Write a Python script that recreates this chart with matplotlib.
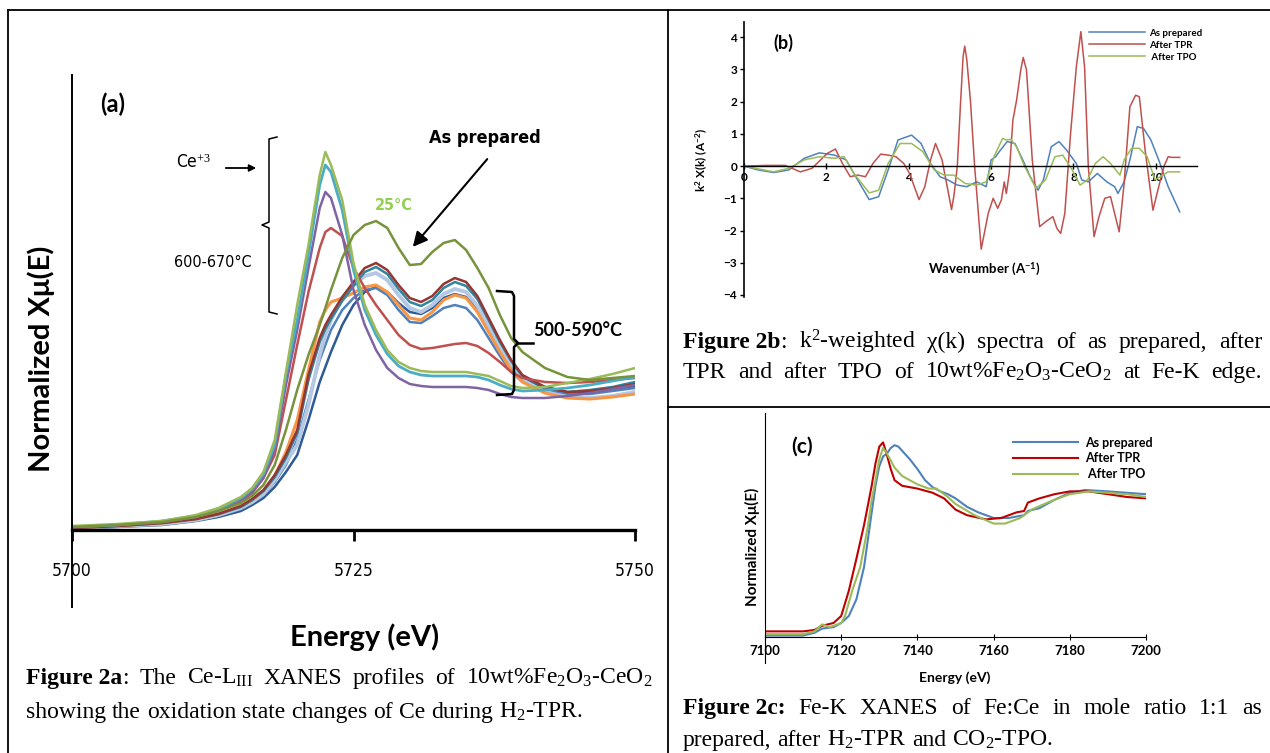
import matplotlib
matplotlib.use('Agg')
import matplotlib.pyplot as plt
from matplotlib import font_manager

plt.rcParams['font.family'] = ['Lato', 'DejaVu Sans']
plt.rcParams['mathtext.fontset'] = 'custom'
plt.rcParams['mathtext.rm'] = 'Liberation Serif'
plt.rcParams['mathtext.it'] = 'Liberation Serif:italic'
plt.rcParams['mathtext.bf'] = 'Liberation Serif:bold'
plt.rcParams['mathtext.sf'] = 'Lato:bold'

# a narrow face for panel (a) labels, whatever is installed
_fonts = [(f.name, f.stretch) for f in font_manager.fontManager.ttflist]
NARROW = dict(family=['Lato', 'DejaVu Sans'], stretch='normal')
for _name, _stretch in _fonts:
    if _name == 'Liberation Sans Narrow':
        NARROW = dict(family=['Liberation Sans Narrow', 'DejaVu Sans'], stretch='normal')
        break
else:
    for _name, _stretch in _fonts:
        if _name == 'DejaVu Sans' and _stretch not in ('normal', 500):
            NARROW = dict(family=['DejaVu Sans'], stretch=_stretch)
            break
SERIF = ['Liberation Serif', 'DejaVu Serif']

# ---- (a) Ce-LIII XANES during H2-TPR ----
energy_a = [5700, 5704, 5708, 5711, 5713, 5715, 5716, 5717, 5718, 5719, 5720,
            5721, 5722, 5722.5, 5723, 5724, 5725, 5726, 5727, 5728, 5729, 5730,
            5731, 5732, 5733, 5734, 5735, 5736, 5737, 5738, 5739, 5740, 5742,
            5744, 5746, 5748, 5750]

# 500-590 C group
mu_darkred = [0.02, 0.04, 0.07, 0.11, 0.16, 0.24, 0.31, 0.40, 0.55, 0.75, 1.00, 1.55, 1.92,
              2.05, 2.15, 2.33, 2.48, 2.62, 2.67, 2.60, 2.45, 2.32, 2.28, 2.34, 2.46, 2.52,
              2.48, 2.34, 2.12, 1.90, 1.70, 1.55, 1.43, 1.38, 1.39, 1.42, 1.46]
mu_teal = [0.02, 0.04, 0.07, 0.11, 0.16, 0.23, 0.30, 0.39, 0.53, 0.72, 0.97, 1.50, 1.88,
           2.01, 2.11, 2.29, 2.44, 2.58, 2.63, 2.56, 2.41, 2.28, 2.24, 2.30, 2.42, 2.48,
           2.44, 2.31, 2.10, 1.88, 1.69, 1.54, 1.43, 1.38, 1.40, 1.43, 1.48]
mu_lavender = [0.02, 0.04, 0.06, 0.10, 0.15, 0.22, 0.28, 0.36, 0.50, 0.68, 0.85, 1.25, 1.75,
               1.95, 2.10, 2.32, 2.45, 2.54, 2.57, 2.50, 2.35, 2.22, 2.18, 2.25, 2.36, 2.41,
               2.38, 2.24, 2.04, 1.82, 1.64, 1.50, 1.38, 1.33, 1.32, 1.34, 1.38]
mu_orange = [0.02, 0.04, 0.07, 0.11, 0.16, 0.24, 0.30, 0.39, 0.54, 0.78, 1.10, 1.60, 2.08,
             2.20, 2.28, 2.32, 2.37, 2.43, 2.45, 2.38, 2.25, 2.12, 2.10, 2.18, 2.30, 2.35,
             2.32, 2.18, 1.98, 1.78, 1.60, 1.48, 1.37, 1.32, 1.31, 1.33, 1.36]
mu_blue = [0.02, 0.04, 0.06, 0.10, 0.14, 0.21, 0.27, 0.35, 0.48, 0.65, 0.90, 1.30, 1.70,
           1.85, 2.00, 2.20, 2.32, 2.40, 2.42, 2.35, 2.20, 2.08, 2.07, 2.14, 2.22, 2.25,
           2.22, 2.10, 1.92, 1.74, 1.58, 1.48, 1.39, 1.36, 1.36, 1.39, 1.42]
mu_darkblue = [0.01, 0.03, 0.05, 0.09, 0.13, 0.19, 0.25, 0.32, 0.43, 0.58, 0.75, 1.10, 1.48,
               1.63, 1.78, 2.05, 2.25, 2.38, 2.43, 2.38, 2.27, 2.18, 2.16, 2.22, 2.32, 2.36,
               2.33, 2.22, 2.03, 1.82, 1.64, 1.52, 1.41, 1.37, 1.37, 1.40, 1.44]
# 600-670 C group (Ce+3)
mu_red = [0.03, 0.05, 0.08, 0.13, 0.19, 0.28, 0.37, 0.52, 0.75, 1.30, 1.85, 2.38, 2.82,
          2.98, 3.02, 2.94, 2.62, 2.42, 2.25, 2.10, 1.95, 1.85, 1.81, 1.82, 1.84, 1.86,
          1.87, 1.84, 1.77, 1.68, 1.58, 1.52, 1.48, 1.47, 1.48, 1.50, 1.52]
mu_purple = [0.03, 0.05, 0.08, 0.13, 0.20, 0.30, 0.38, 0.52, 0.80, 1.45, 2.00, 2.62, 3.22,
             3.38, 3.32, 2.95, 2.40, 2.05, 1.80, 1.62, 1.52, 1.46, 1.44, 1.43, 1.43, 1.43,
             1.43, 1.42, 1.40, 1.36, 1.33, 1.32, 1.32, 1.34, 1.37, 1.41, 1.45]
mu_cyan = [0.03, 0.05, 0.09, 0.14, 0.21, 0.32, 0.41, 0.56, 0.85, 1.55, 2.10, 2.75, 3.45,
           3.65, 3.58, 3.20, 2.60, 2.20, 1.95, 1.76, 1.64, 1.58, 1.55, 1.54, 1.54, 1.54,
           1.54, 1.53, 1.50, 1.45, 1.41, 1.39, 1.40, 1.42, 1.45, 1.49, 1.53]
mu_green = [0.04, 0.06, 0.09, 0.15, 0.22, 0.33, 0.42, 0.58, 0.90, 1.58, 2.25, 2.85, 3.55,
            3.78, 3.65, 3.30, 2.67, 2.25, 2.00, 1.80, 1.68, 1.62, 1.59, 1.58, 1.58, 1.58,
            1.58, 1.56, 1.54, 1.49, 1.44, 1.42, 1.43, 1.47, 1.51, 1.56, 1.62]
# as prepared, 25 C
mu_olive = [0.03, 0.05, 0.08, 0.13, 0.19, 0.27, 0.34, 0.45, 0.65, 1.00, 1.40, 1.75, 2.05,
            2.22, 2.40, 2.72, 2.95, 3.05, 3.09, 3.02, 2.82, 2.65, 2.66, 2.78, 2.87, 2.90,
            2.80, 2.62, 2.42, 2.15, 1.92, 1.78, 1.62, 1.53, 1.50, 1.52, 1.54]

# ---- (b) k2-weighted chi(k) ----
k_ap = [0, 0.34, 0.72, 1.09, 1.46, 1.83, 2.2, 2.48, 2.76, 3.04, 3.27, 3.5, 3.74, 4.07, 4.3,
        4.53, 4.76, 4.95, 5.18, 5.41, 5.65, 5.88, 6.0, 6.11, 6.2, 6.39, 6.58, 6.77, 6.95,
        7.14, 7.27, 7.46, 7.65, 7.83, 8.07, 8.2, 8.36, 8.58, 8.81, 9.0, 9.08, 9.23, 9.37,
        9.55, 9.7, 9.88, 10.07, 10.3, 10.58]
chi_ap = [0, -0.12, -0.2, -0.12, 0.24, 0.41, 0.34, 0.19, -0.43, -1.04, -0.95, -0.12, 0.81,
          0.96, 0.7, 0.08, -0.33, -0.43, -0.59, -0.64, -0.49, -0.64, 0.19, 0.29, 0.45, 0.76,
          0.7, 0.19, -0.33, -0.75, -0.43, 0.6, 0.76, 0.5, 0.08, -0.43, -0.49, -0.23, -0.49,
          -0.64, -0.85, -0.49, 0.19, 1.22, 1.17, 0.81, 0.19, -0.64, -1.42]
k_tpr = [0, 0.53, 1.0, 1.37, 1.65, 2.02, 2.22, 2.39, 2.58, 2.76, 2.95, 3.13, 3.32, 3.5, 3.69,
         3.88, 4.02, 4.25, 4.39, 4.53, 4.65, 4.81, 5.04, 5.1, 5.18, 5.26, 5.32, 5.36, 5.41,
         5.5, 5.6, 5.76, 5.93, 6.05, 6.16, 6.25, 6.32, 6.37, 6.44, 6.53, 6.62, 6.72, 6.78,
         6.86, 7.0, 7.18, 7.32, 7.5, 7.6, 7.69, 7.79, 7.93, 8.07, 8.18, 8.27, 8.36, 8.5,
         8.62, 8.76, 8.9, 9.0, 9.11, 9.23, 9.37, 9.51, 9.6, 9.74, 9.93, 10.07, 10.2, 10.3,
         10.39, 10.58]
chi_tpr = [0, 0.02, 0.02, -0.18, -0.07, 0.39, 0.53, 0.08, -0.33, -0.28, -0.33, 0.08, 0.37,
           0.34, 0.29, 0.08, -0.23, -1.04, -0.64, 0.19, 0.7, 0.19, -1.35, -0.9, 0, 2.0, 3.4,
           3.72, 3.3, 2.0, 0, -2.58, -1.47, -1.0, -1.31, -1.05, -0.49, -0.85, -0.23, 1.43,
           2.05, 2.98, 3.37, 2.98, 0.19, -1.88, -1.73, -1.57, -1.94, -2.09, -1.47, 1.01,
           3.08, 4.17, 3.08, 0, -2.19, -1.57, -1.0, -0.95, -1.47, -2.04, -0.54, 1.84, 2.2,
           2.15, 0.5, -1.37, -0.64, 0, 0.29, 0.27, 0.27]
k_tpo = [0, 0.72, 1.09, 1.46, 1.83, 2.2, 2.43, 2.67, 3.04, 3.27, 3.5, 3.79, 4.07, 4.34, 4.62,
         4.86, 5.09, 5.37, 5.65, 5.88, 6.07, 6.28, 6.37, 6.48, 6.62, 6.81, 7.09, 7.32, 7.55,
         7.74, 7.97, 8.16, 8.34, 8.53, 8.72, 8.9, 9.13, 9.23, 9.41, 9.6, 9.79, 9.98, 10.11,
         10.3, 10.58]
chi_tpo = [0, -0.18, -0.07, 0.19, 0.29, 0.24, 0.29, -0.23, -0.83, -0.75, 0.08, 0.7, 0.7,
           0.45, -0.12, -0.28, -0.28, -0.54, -0.59, -0.49, 0.29, 0.86, 0.81, 0.83, 0.6, 0,
           -0.69, -0.43, 0.29, 0.34, -0.12, -0.59, -0.43, 0.08, 0.29, 0.08, -0.28, 0.19,
           0.55, 0.55, 0.29, -0.43, -0.33, -0.18, -0.18]

# ---- (c) Fe-K XANES ----
e_c_ap = [7100, 7110, 7113, 7115, 7118, 7120, 7122, 7124, 7126, 7128, 7129, 7130, 7131,
          7132, 7133, 7134, 7135, 7136, 7138, 7140, 7142, 7144, 7146, 7148, 7150, 7153,
          7156, 7160, 7164, 7168, 7169, 7172, 7176, 7180, 7184, 7190, 7195, 7200]
mu_c_ap = [0.01, 0.01, 0.03, 0.06, 0.07, 0.10, 0.15, 0.27, 0.50, 0.89, 1.08, 1.22, 1.29,
           1.31, 1.35, 1.37, 1.36, 1.33, 1.27, 1.20, 1.12, 1.07, 1.04, 1.02, 0.99, 0.93,
           0.89, 0.85, 0.85, 0.87, 0.90, 0.92, 0.98, 1.03, 1.05, 1.04, 1.03, 1.02]
e_c_tpr = [7100, 7110, 7113, 7115, 7118, 7120, 7122, 7124, 7126, 7128, 7129, 7130, 7131,
           7132, 7133, 7134, 7136, 7140, 7144, 7147, 7150, 7153, 7158, 7162, 7166, 7168,
           7169, 7172, 7176, 7180, 7185, 7190, 7195, 7200]
mu_c_tpr = [0.04, 0.04, 0.05, 0.08, 0.10, 0.15, 0.33, 0.56, 0.80, 1.08, 1.24, 1.36, 1.39,
            1.30, 1.20, 1.12, 1.08, 1.06, 1.03, 0.99, 0.91, 0.87, 0.84, 0.85, 0.89, 0.90,
            0.96, 0.99, 1.02, 1.04, 1.04, 1.02, 1.00, 0.99]
e_c_tpo = [7100, 7110, 7113, 7115, 7117, 7120, 7121, 7123, 7125, 7127, 7128, 7129, 7130,
           7131, 7132, 7134, 7136, 7138, 7140, 7143, 7145, 7148, 7150, 7155, 7160, 7163,
           7167, 7168, 7170, 7175, 7180, 7185, 7190, 7195, 7200]
mu_c_tpo = [0.02, 0.02, 0.04, 0.09, 0.07, 0.10, 0.15, 0.34, 0.50, 0.79, 0.98, 1.12, 1.27,
            1.35, 1.31, 1.21, 1.15, 1.12, 1.09, 1.06, 1.06, 1.00, 0.95, 0.87, 0.81, 0.81,
            0.85, 0.87, 0.91, 0.97, 1.02, 1.04, 1.03, 1.02, 1.00]

W, H = 1270, 753
fig = plt.figure(figsize=(W / 100, H / 100), dpi=100)


def rect(x0, y0, x1, y1):
    # pixel box -> figure fraction
    return [x0 / W, 1 - y1 / H, (x1 - x0) / W, (y1 - y0) / H]


# overlay in pixel units for borders, braces and captions (kept on top)
ov = fig.add_axes([0, 0, 1, 1])
ov.set_xlim(0, W)
ov.set_ylim(H, 0)
ov.axis('off')
ov.set_zorder(10)

# ---------------- panel a ----------------
ax = fig.add_axes(rect(72, 75, 635, 607))
curves_a = [
    (mu_darkblue, '#2E5A97', 1.8), (mu_blue, '#4F81BD', 1.8), (mu_lavender, '#B4C7E3', 2.8),
    (mu_orange, '#F79646', 2.2), (mu_teal, '#31859C', 1.8), (mu_darkred, '#943634', 1.8),
    (mu_red, '#C0504D', 1.8), (mu_purple, '#8064A2', 1.8), (mu_cyan, '#4BACC6', 2.0),
    (mu_green, '#9BBB59', 1.8), (mu_olive, '#77933C', 1.8),
]
for mu, col, lw in curves_a:
    ax.plot(energy_a, mu, color=col, lw=lw)
ax.set_xlim(5700, 5750)
ax.set_ylim(-0.77, 4.55)
ax.spines['top'].set_visible(False)
ax.spines['right'].set_visible(False)
ax.spines['bottom'].set_position(('data', 0))
ax.spines['bottom'].set_linewidth(2.4)
ax.spines['left'].set_linewidth(1.4)
ax.set_yticks([])
ax.set_xticks([5700, 5725, 5750])
ax.tick_params(axis='x', direction='out', length=8, width=2, pad=15)
for lab in ax.get_xticklabels():
    lab.set_family(NARROW['family'])
    lab.set_stretch(NARROW['stretch'])
    lab.set_fontsize(12.5)
ax.set_xlabel('Energy (eV)', fontsize=21, fontweight='bold')
ax.xaxis.set_label_coords(0.52, -0.03)
ax.set_ylabel('Normalized Xμ(E)', fontsize=21, fontweight='bold')
ax.yaxis.set_label_coords(-0.03, 0.466)
ax.text(0.073, 0.944, '(a)', transform=ax.transAxes, fontsize=17, fontweight='bold',
        ha='center', va='center')

# annotations of panel a
ov.text(194, 163, r'Ce$^{+3}$', fontsize=12.5, ha='center', va='center', **NARROW)
ov.annotate('', xy=(259, 168), xytext=(223, 168),
            arrowprops=dict(arrowstyle='-|>', color='black', lw=1.3, mutation_scale=10))
ov.plot([277, 269, 269, 262, 269, 269, 277], [137, 139, 222, 225, 228, 312, 314],
        color='black', lw=1.1)
ov.text(213, 262, '600-670°C', fontsize=11.5, ha='center', va='center', **NARROW)
ov.text(394, 205, '25°C', fontsize=11.5, fontweight='bold', color='#92D050',
        ha='center', va='center', **NARROW)
ov.text(485, 138, 'As prepared', fontsize=13, fontweight='bold',
        ha='center', va='center', **NARROW)
ov.annotate('', xy=(411, 249), xytext=(489, 157),
            arrowprops=dict(arrowstyle='-|>', color='black', lw=1.5, mutation_scale=22))
ov.plot([497, 512, 514, 514, 518, 514, 514, 512, 497],
        [291, 292, 296, 339, 343, 347, 390, 394, 395], color='black', lw=1.8)
ov.plot([518, 533], [343, 343], color='black', lw=1.8)
ov.text(578, 330, '500-590°C', fontsize=13, fontweight='bold', ha='center', va='center')

# ---------------- panel b ----------------
bx = fig.add_axes(rect(744, 22, 1197, 296.6))
bx.plot(k_ap, chi_ap, color='#4F81BD', lw=1.1, label='As prepared')
bx.plot(k_tpr, chi_tpr, color='#C0504D', lw=1.1, label='After TPR')
bx.plot(k_tpo, chi_tpo, color='#9BBB59', lw=1.1, label=' After TPO')
bx.set_xlim(0, 11)
bx.set_ylim(-4.05, 4.47)
bx.spines['top'].set_visible(False)
bx.spines['right'].set_visible(False)
bx.spines['bottom'].set_position(('data', 0))
bx.spines['left'].set_linewidth(1.2)
bx.spines['bottom'].set_linewidth(1.0)
bx.set_xticks([0, 2, 4, 6, 8, 10])
bx.set_yticks([-4, -3, -2, -1, 0, 1, 2, 3, 4])
bx.tick_params(axis='both', labelsize=8.5, length=3, width=1, pad=2)
bx.tick_params(axis='x', direction='inout', length=5)
for lab in bx.get_xticklabels() + bx.get_yticklabels():
    lab.set_fontweight('bold')
bx.set_ylabel(r'k$^{\mathsf{2}}$ X(k) (A$^{\mathsf{-2}}$)', fontsize=8.5, fontweight='bold')
bx.yaxis.set_label_coords(-0.075, 0.497)
bx.set_xlabel(r'Wavenumber (A$^{\mathsf{-1}}$)', fontsize=9.5, fontweight='bold')
bx.xaxis.set_label_coords(0.53, 0.13)
bx.text(0.086, 0.923, '(b)', transform=bx.transAxes, fontsize=13, fontweight='bold',
        ha='center', va='center')
lg = bx.legend(loc='upper left', bbox_to_anchor=((1082 - 744) / 453, 1.0), frameon=False,
               fontsize=7, handlelength=5.8, handletextpad=0.4, labelspacing=0.3,
               borderaxespad=0.3)
for t in lg.get_texts():
    t.set_fontweight('bold')

# ---------------- panel c ----------------
cx = fig.add_axes(rect(765, 413, 1146, 663))
cx.plot(e_c_ap, mu_c_ap, color='#4F81BD', lw=1.5, label='As prepared')
cx.plot(e_c_tpr, mu_c_tpr, color='#C00000', lw=1.5, label='After TPR')
cx.plot(e_c_tpo, mu_c_tpo, color='#9BBB59', lw=1.5, label=' After TPO')
cx.set_xlim(7100, 7200)
cx.set_ylim(-0.186, 1.6)
cx.spines['top'].set_visible(False)
cx.spines['right'].set_visible(False)
cx.spines['bottom'].set_position(('data', 0))
cx.set_yticks([])
cx.set_xticks([7100, 7120, 7140, 7160, 7180, 7200])
cx.tick_params(axis='x', direction='inout', length=5, labelsize=9.5, pad=3)
for lab in cx.get_xticklabels():
    lab.set_fontweight('bold')
cx.set_xlabel('Energy (eV)', fontsize=10, fontweight='bold')
cx.xaxis.set_label_coords(0.499, -0.035)
cx.set_ylabel('Normalized Xμ(E)', fontsize=11, fontweight='bold')
cx.yaxis.set_label_coords(-0.012, 0.464)
cx.text(0.097, 0.864, '(c)', transform=cx.transAxes, fontsize=15, fontweight='bold',
        ha='center', va='center')
lg = cx.legend(loc='upper left', bbox_to_anchor=((1005 - 765) / 381, 0.935), frameon=False,
               fontsize=9, handlelength=5.2, handletextpad=0.6, labelspacing=0.3,
               borderaxespad=0.2)
for t in lg.get_texts():
    t.set_fontweight('bold')

# ---------------- borders ----------------
for xs, ys in [([8, W], [10, 10]), ([8, 8], [10, H]), ([668, 668], [10, H]),
               ([668, W], [407, 407])]:
    ov.plot(xs, ys, color='black', lw=1.3)

# ---------------- captions ----------------
renderer = fig.canvas.get_renderer()


def caption(words, x0, y, x1=None, size=17):
    made, widths = [], []
    for word in words:
        parts, w = [], 0
        for s, wt in word:
            t = ov.text(0, y, s, fontsize=size, fontweight=wt, family=SERIF, va='baseline')
            pw = t.get_window_extent(renderer).width
            parts.append((t, pw))
            w += pw
        made.append(parts)
        widths.append(w)
    if x1 is None:
        gap = 0.25 * size * 100 / 72
    else:
        gap = (x1 - x0 - sum(widths)) / (len(words) - 1)
    x = x0
    for parts, w in zip(made, widths):
        for t, pw in parts:
            t.set_x(x)
            x += pw
        x += gap


def plain(text):
    return [[(w, 'normal')] for w in text.split(' ')]


caption([[('Figure 2a', 'bold'), (':', 'normal')]] + plain('The') +
        [[(r'Ce-L$_{\mathrm{III}}$', 'normal')]] + plain('XANES profiles of') +
        [[(r'10wt%Fe$_2$O$_3$-CeO$_2$', 'normal')]], 26, 684, 652)
caption(plain('showing the oxidation state changes of Ce during') +
        [[(r'H$_2$-TPR.', 'normal')]], 26, 718)

caption([[('Figure 2b', 'bold'), (':', 'normal')]] +
        [[(r'k$^2$-weighted', 'normal')]] + plain('χ(k) spectra of as prepared, after'),
        683, 348, 1262)
caption(plain('TPR and after TPO of') + [[(r'10wt%Fe$_2$O$_3$-CeO$_2$', 'normal')]] +
        plain('at Fe-K edge.'), 683, 378, 1262)

caption([[('Figure 2c:', 'bold')]] + plain('Fe-K XANES of Fe:Ce in mole ratio 1:1 as'),
        683, 714, 1262)
caption(plain('prepared, after') + [[(r'H$_2$-TPR', 'normal')]] + plain('and') +
        [[(r'CO$_2$-TPO.', 'normal')]], 683, 746)

fig.savefig('out.png', dpi=100)
